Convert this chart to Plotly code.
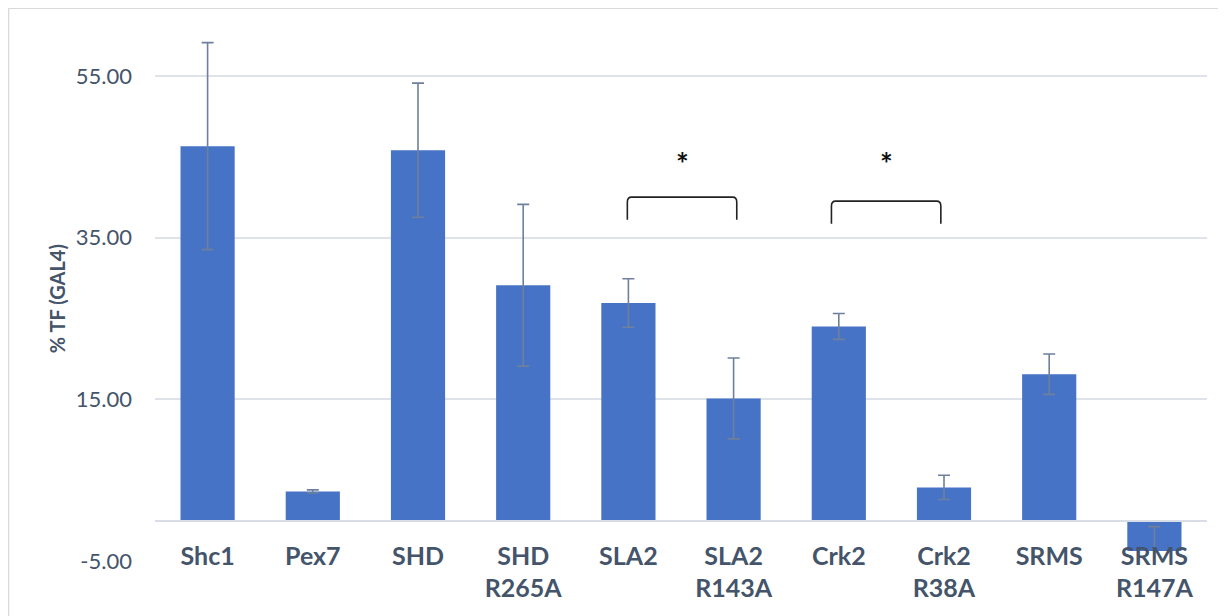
import plotly.graph_objects as go

categories = ["Shc1", "Pex7", "SHD", "SHD<br>R265A", "SLA2", "SLA2<br>R143A",
              "Crk2", "Crk2<br>R38A", "SRMS", "SRMS<br>R147A"]
values = [46.3, 3.6, 45.8, 29.1, 26.9, 15.1, 24.0, 4.1, 18.1, -3.75]
err_plus = [12.8, 0.2, 8.3, 10.0, 3.0, 5.0, 1.6, 1.5, 2.5, 3.0]
err_minus = [12.8, 0.2, 8.3, 10.0, 3.0, 5.0, 1.6, 1.5, 2.5, 3.0]
y_ticks = [-5, 15, 35, 55]

# significance brackets: (left category, right category, bracket top, leg bottom)
brackets = [(3.99, 5.03, 40.0, 37.2), (5.93, 6.97, 39.5, 36.7)]
star_y = 44.2

PAGE_OFF = 8  # default body margin of the html page
W, H = 1226 - PAGE_OFF, 616 - PAGE_OFF
ml, mr, mt, mb = 155 - PAGE_OFF, 19, 20 - PAGE_OFF, 55
y_min, y_max = -5, 61.9

x_idx = list(range(len(categories)))

fig = go.Figure()
fig.add_trace(go.Bar(
    x=x_idx, y=values,
    marker=dict(color="#4673C5", line=dict(width=0)),
    error_y=dict(type="data", array=err_plus, arrayminus=err_minus,
                 symmetric=False, color="#6E809C", thickness=1.6, width=6),
    width=0.515,
))

shapes = []
for (x0, x1, ytop, ybot) in brackets:
    shapes.append(dict(
        type="path", xref="x", yref="y",
        path=f"M {x0},{ybot} L {x0},{ytop-0.6} Q {x0},{ytop} {x0+0.04},{ytop} "
             f"L {x1-0.04},{ytop} Q {x1},{ytop} {x1},{ytop-0.6} L {x1},{ybot}",
        line=dict(color="#222222", width=1.6),
    ))

# chart area border
plot_w = W - ml - mr
plot_h = H - mt - mb
bx0 = (7 - PAGE_OFF - ml + 0.5) / plot_w
bx1 = (1240 - ml) / plot_w
by1 = 1 + (mt - (7 - PAGE_OFF) - 0.5) / plot_h
by0 = -(mb + 20) / plot_h
shapes.append(dict(type="rect", xref="paper", yref="paper",
                   x0=max(bx0, -ml / plot_w + 0.0005), x1=bx1, y0=by0,
                   y1=min(by1, 1 + mt / plot_h - 0.0005),
                   line=dict(color="#D9D9D9", width=1.5), layer="below"))

annotations = []
for (x0, x1, ytop, ybot) in brackets:
    annotations.append(dict(x=(x0 + x1) / 2, y=star_y, xref="x", yref="y",
                            text="<b>*</b>", showarrow=False,
                            font=dict(family="Lato", size=30, color="#111111")))

# y-axis title
annotations.append(dict(
    x=(56.7 - 155) / plot_w, y=(561 - 298.5) / plot_h,
    xref="paper", yref="paper", text="<b>% TF (GAL4)</b>",
    textangle=-90, showarrow=False, xanchor="center", yanchor="middle",
    font=dict(family="Lato", size=20, color="#44546A"),
))

zero_pos = (0 - y_min) / (y_max - y_min)

fig.update_layout(
    width=W, height=H,
    margin=dict(l=ml, r=mr, t=mt, b=mb, autoexpand=False),
    paper_bgcolor="white", plot_bgcolor="white",
    showlegend=False,
    bargap=0.485,
    shapes=shapes,
    annotations=annotations,
    font=dict(family="Lato", color="#44546A"),
    xaxis=dict(
        range=[-0.5, len(categories) - 0.5],
        tickvals=x_idx, ticktext=categories,
        tickfont=dict(family="Lato", size=25, color="#44546A", weight="bold"),
        showgrid=False, zeroline=False,
        showline=True, linecolor="#D9DEE6", linewidth=2,
        anchor="free", position=zero_pos,
        ticks="", ticklabelstandoff=13,
    ),
    yaxis=dict(
        range=[y_min, y_max],
        tickvals=y_ticks, ticktext=[f"{v:.2f}" for v in y_ticks],
        tickfont=dict(family="Lato", size=22, color="#44546A"),
        showgrid=True, gridcolor="#DEE3EA", gridwidth=1.5,
        zeroline=False, showline=False, ticks="",
        ticklabelstandoff=22,
    ),
)

fig.write_html("out.html")
